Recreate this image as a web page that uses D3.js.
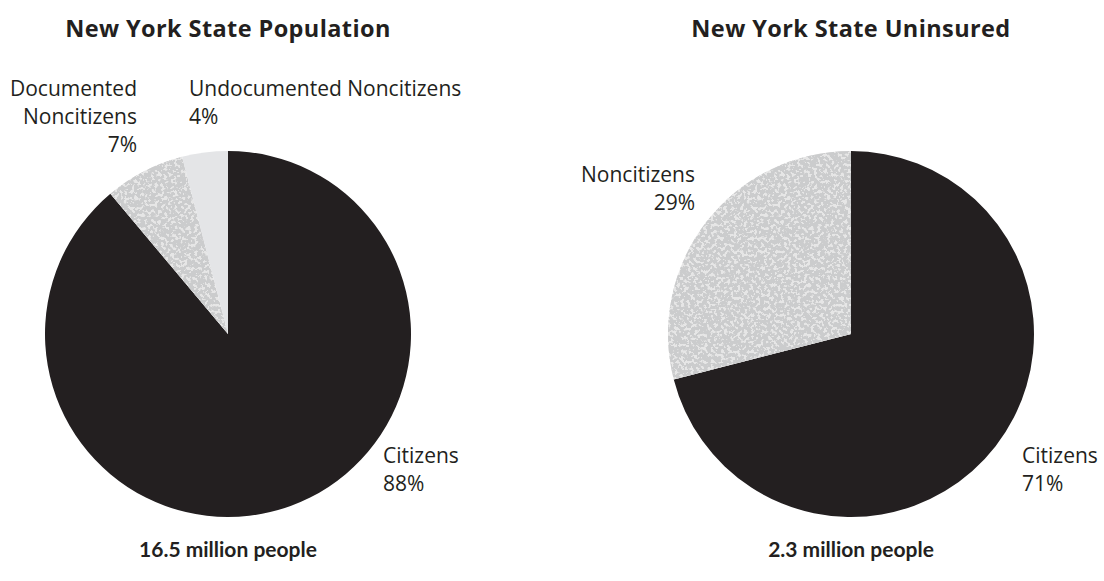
<!DOCTYPE html>
<html lang="en">
<head>
<meta charset="utf-8">
<title>New York State Population and Uninsured</title>
<script src="https://d3js.org/d3.v7.min.js"></script>
<style>
  body { margin: 0; background: #fff; }
  text { font-family: "Open Sans", Lato, sans-serif; fill: #231f20; }
  text.total { font-family: Lato, "Open Sans", sans-serif; }
</style>
</head>
<body>
<div id="chart"></div>
<script>
// population shares
var popLabels = ["Citizens", "Documented Noncitizens", "Undocumented Noncitizens"];
var popValues = [88, 7, 4];
// uninsured shares
var uninsLabels = ["Citizens", "Noncitizens"];
var uninsValues = [71, 29];

var titles = ["New York State Population", "New York State Uninsured"];
var totals = ["16.5 million people", "2.3 million people"];

var width = 1104, height = 581;

var svg = d3.select("#chart").append("svg")
  .attr("width", width)
  .attr("height", height);

// grainy gray texture for noncitizen slices
var defs = svg.append("defs");
var f = defs.append("filter").attr("id", "grain")
  .attr("x", 0).attr("y", 0).attr("width", 1).attr("height", 1);
f.append("feTurbulence").attr("type", "fractalNoise")
  .attr("baseFrequency", 0.3).attr("numOctaves", 3).attr("seed", 7).attr("result", "noise");
f.append("feColorMatrix").attr("in", "noise").attr("type", "matrix")
  .attr("values", "0 0 0 0 0.6  0 0 0 0 0.604  0 0 0 0 0.61  14 0 0 0 -5.6")
  .attr("result", "specks");
f.append("feComposite").attr("in", "specks").attr("in2", "SourceGraphic")
  .attr("operator", "in").attr("result", "clipped");
var m = f.append("feMerge");
m.append("feMergeNode").attr("in", "SourceGraphic");
m.append("feMergeNode").attr("in", "clipped");

var fills = {
  "Citizens": "#231f20",
  "Documented Noncitizens": "#e6e6e6",
  "Undocumented Noncitizens": "#e4e5e7",
  "Noncitizens": "#e6e6e6"
};
var grainy = { "Documented Noncitizens": true, "Noncitizens": true };

var pie = d3.pie().sort(null).value(function(d) { return d.value; });
var r = 183;
var arc = d3.arc().innerRadius(0).outerRadius(r);

function drawPie(cx, labels, values) {
  var data = labels.map(function(l, i) { return { label: l, value: values[i] }; });
  var g = svg.append("g").attr("transform", "translate(" + cx + ",334)");
  g.selectAll("path")
    .data(pie(data))
    .enter().append("path")
    .attr("d", arc)
    .attr("fill", function(d) { return fills[d.data.label]; })
    .attr("filter", function(d) { return grainy[d.data.label] ? "url(#grain)" : null; });
}

drawPie(228, popLabels, popValues);
drawPie(851, uninsLabels, uninsValues);

// titles and totals
[228, 851].forEach(function(cx, i) {
  svg.append("text").attr("x", cx).attr("y", 37)
    .attr("text-anchor", "middle").attr("font-size", 23.5).attr("font-weight", 700)
    .attr("letter-spacing", 0.4)
    .text(titles[i]);
  svg.append("text").attr("class", "total").attr("x", cx).attr("y", 557)
    .attr("text-anchor", "middle").attr("font-size", 21).attr("font-weight", 700)
    .text(totals[i]);
});

// slice labels
function label(x, y, lines, anchor) {
  var t = svg.append("text").attr("x", x).attr("y", y)
    .attr("text-anchor", anchor).attr("font-size", 21);
  lines.forEach(function(s, i) {
    t.append("tspan").attr("x", x).attr("dy", i ? 28 : 0).text(s);
  });
}

label(137, 96, ["Documented", "Noncitizens", popValues[1] + "%"], "end");
label(189, 96, ["Undocumented Noncitizens", popValues[2] + "%"], "start");
label(383, 463, ["Citizens", popValues[0] + "%"], "start");
label(695, 182, ["Noncitizens", uninsValues[1] + "%"], "end");
label(1022, 463, ["Citizens", uninsValues[0] + "%"], "start");
</script>
</body>
</html>
